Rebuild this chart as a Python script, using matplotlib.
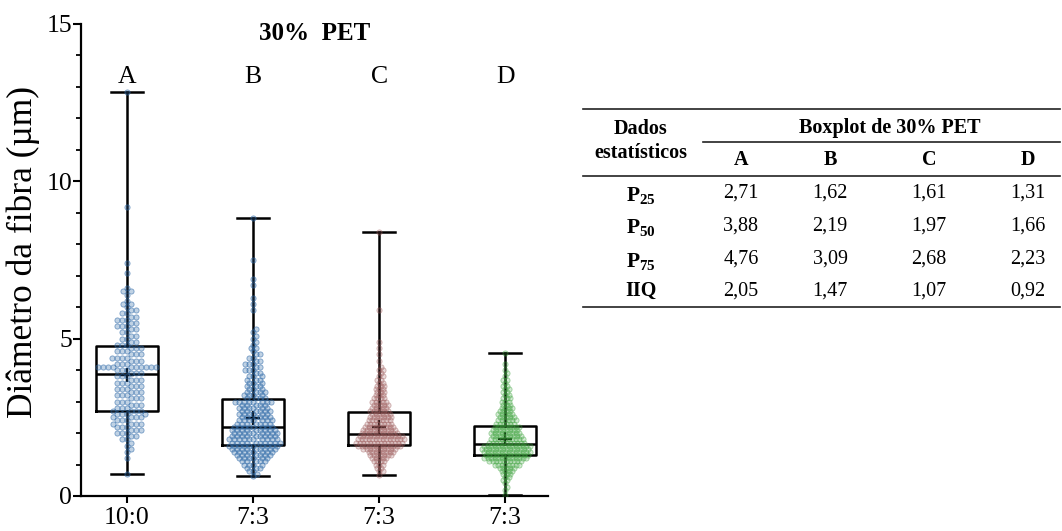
import numpy as np
import matplotlib
matplotlib.use("Agg")
import matplotlib.pyplot as plt
import matplotlib.transforms as mtransforms
from matplotlib.colors import to_rgba

plt.rcParams['font.family'] = ['Liberation Serif', 'DejaVu Serif']
plt.rcParams['mathtext.fontset'] = 'custom'
plt.rcParams['mathtext.rm'] = 'Liberation Serif'
plt.rcParams['mathtext.bf'] = 'Liberation Serif:bold'

# grupos e estatisticas (tabela)
grupos = ['A', 'B', 'C', 'D']
razoes = ['10:0', '7:3', '7:3', '7:3']
p25 = [2.71, 1.62, 1.61, 1.31]
p50 = [3.88, 2.19, 1.97, 1.66]
p75 = [4.76, 3.09, 2.68, 2.23]
iiq = [2.05, 1.47, 1.07, 0.92]
minimos = [0.70, 0.62, 0.67, 0.03]
maximos = [12.85, 8.82, 8.40, 4.55]
medias = [3.84, 2.47, 2.20, 1.80]

cores = ['#2f6aa8', '#2f6aa8', '#9c5a5a', '#3aa23a']

# pontos: diametro -> quantidade de fibras
diam_a = [0.70, 1.2, 1.4, 1.5, 1.6, 1.7, 1.8, 1.9,
          2.0, 2.1, 2.2, 2.3, 2.4, 2.5, 2.6, 2.7, 2.8, 2.9,
          3.0, 3.1, 3.2, 3.3, 3.4, 3.5, 3.6, 3.7, 3.8, 3.9,
          4.0, 4.1, 4.2, 4.3, 4.4, 4.5, 4.6, 4.7, 4.8, 4.9,
          5.0, 5.1, 5.2, 5.3, 5.4, 5.5, 5.6, 5.7, 5.8, 5.9,
          6.0, 6.1, 6.2, 6.4, 6.5, 6.6, 7.1, 7.4, 9.2, 12.85]
cont_a = [1, 1, 1, 1, 1, 1, 2, 2,
          3, 3, 3, 4, 3, 4, 4, 4, 3, 3,
          3, 3, 3, 3, 3, 3, 3, 3, 3, 3,
          3, 10, 3, 3, 4, 3, 3, 3, 3, 2,
          2, 2, 2, 2, 3, 2, 3, 2, 2, 2,
          1, 2, 1, 1, 2, 1, 1, 1, 1, 1]

diam_b = [0.62, 0.7, 0.8, 0.9,
          1.0, 1.1, 1.2, 1.3, 1.4, 1.5, 1.6, 1.7, 1.8, 1.9,
          2.0, 2.1, 2.2, 2.3, 2.4, 2.5, 2.6, 2.7, 2.8, 2.9,
          3.0, 3.1, 3.2, 3.3, 3.4, 3.5, 3.6, 3.7, 3.8, 3.9,
          4.0, 4.1, 4.2, 4.3, 4.4, 4.5, 4.6, 4.7, 4.8, 4.9,
          5.0, 5.1, 5.2, 5.3, 5.9, 6.1, 6.3, 6.7, 6.9, 7.5, 8.82]
cont_b = [1, 1, 2, 3,
          4, 5, 6, 7, 8, 9, 10, 10, 10, 9,
          9, 9, 8, 7, 7, 6, 6, 6, 6, 5,
          8, 4, 4, 4, 3, 3, 3, 3, 3, 2,
          3, 2, 3, 2, 2, 2, 1, 2, 1, 1,
          1, 1, 1, 1, 1, 1, 1, 1, 1, 1, 1]

diam_c = [0.67, 0.8, 0.9,
          1.0, 1.1, 1.2, 1.3, 1.4, 1.5, 1.6, 1.7, 1.8, 1.9,
          2.0, 2.1, 2.2, 2.3, 2.4, 2.5, 2.6, 2.7, 2.8, 2.9,
          3.0, 3.1, 3.2, 3.3, 3.4, 3.5, 3.6, 3.7, 3.8, 3.9,
          4.0, 4.1, 4.3, 4.5, 4.7, 4.9, 5.9, 8.4]
cont_c = [1, 2, 2,
          3, 4, 5, 7, 8, 10, 13, 14, 14, 13,
          11, 10, 9, 8, 7, 7, 6, 6, 5, 5,
          5, 4, 3, 3, 3, 3, 2, 2, 2, 1,
          2, 1, 1, 1, 1, 1, 1, 1]

diam_d = [0.03, 0.2, 0.3, 0.4, 0.5, 0.6, 0.7, 0.8, 0.9,
          1.0, 1.1, 1.2, 1.3, 1.4, 1.5, 1.6, 1.7, 1.8, 1.9,
          2.0, 2.1, 2.2, 2.3, 2.4, 2.5, 2.6, 2.7, 2.8, 2.9,
          3.0, 3.1, 3.2, 3.3, 3.4, 3.5, 3.6, 3.7, 3.8, 3.9,
          4.0, 4.2, 4.55]
cont_d = [1, 1, 1, 1, 2, 2, 3, 4, 5,
          8, 10, 13, 13, 14, 14, 14, 11, 10, 9,
          9, 8, 8, 6, 6, 5, 5, 4, 4, 3,
          3, 3, 2, 2, 2, 2, 1, 2, 1, 1,
          1, 1, 1]

diametros = [diam_a, diam_b, diam_c, diam_d]
contagens = [cont_a, cont_b, cont_c, cont_d]
espacamento = [4.8, 4.0, 3.4, 3.4]   # distancia minima entre pontos (px)
alfa_face = [0.3, 0.3, 0.22, 0.22]
alfa_borda = [0.6, 0.6, 0.45, 0.45]

fig = plt.figure(figsize=(10.62, 5.31), dpi=100)
ax = fig.add_axes([81 / 1062, 35 / 531, 467 / 1062, 472 / 531])
ax.set_xlim(-0.365, 3.34)
ax.set_ylim(0, 15)

# caixas
stats = []
for i in range(4):
    stats.append(dict(med=p50[i], q1=p25[i], q3=p75[i],
                      whislo=minimos[i], whishi=maximos[i],
                      mean=medias[i], fliers=[]))
linha = dict(color='black', linewidth=1.8)
ax.bxp(stats, positions=range(4), widths=0.49, capwidths=0.25,
       showmeans=True, showfliers=False,
       boxprops=linha, whiskerprops=linha, capprops=linha,
       medianprops=linha,
       meanprops=dict(marker='+', markeredgecolor='black',
                      markersize=10, markeredgewidth=1.7),
       zorder=2)


def enxame(xc, valores, dmin):
    # beeswarm simples em pixels
    pts = ax.transData.transform(np.column_stack([np.full(len(valores), xc), valores]))
    ys = pts[:, 1]
    x0 = pts[0, 0]
    passos = np.arange(0.5, 90, 0.5)
    cands = [0.0]
    for p in passos:
        cands += [p, -p]
    offs = np.zeros(len(ys))
    px, py = [], []
    for i in np.argsort(ys, kind='stable'):
        y = ys[i]
        ax_ = np.array(px)
        ay_ = np.array(py)
        if len(ax_):
            perto = np.abs(ay_ - y) < dmin
            nx, ny = ax_[perto], ay_[perto]
        else:
            nx, ny = ax_, ay_
        for c in cands:
            if np.all((nx - c) ** 2 + (ny - y) ** 2 >= dmin ** 2):
                break
        offs[i] = c
        px.append(c)
        py.append(y)
    volta = ax.transData.inverted().transform(np.column_stack([x0 + offs, ys]))
    return volta[:, 0], volta[:, 1]


for i in range(4):
    valores = np.repeat(diametros[i], contagens[i])
    xs, ys = enxame(i, valores, espacamento[i])
    ax.scatter(xs, ys, s=14, facecolors=[to_rgba(cores[i], alfa_face[i])],
               edgecolors=[to_rgba(cores[i], alfa_borda[i])], linewidths=0.6, zorder=3)

# eixos
ax.spines['top'].set_visible(False)
ax.spines['right'].set_visible(False)
ax.spines['left'].set_linewidth(1.6)
ax.spines['bottom'].set_linewidth(1.6)
ax.set_yticks([0, 5, 10, 15])
ax.set_yticks(range(16), minor=True)
ax.set_xticks(range(4))
ax.set_xticklabels(razoes)
ax.tick_params(axis='both', which='major', labelsize=18.5, width=1.5, color='black')
ax.tick_params(axis='y', which='major', length=6, pad=0.5)
ax.tick_params(axis='y', which='minor', length=3.5, width=1.3)
ax.tick_params(axis='x', which='major', length=5, pad=3)
ax.set_ylabel('Diâmetro da fibra (µm)', fontsize=25.5)
ax.yaxis.set_label_coords(-0.088, 0.517)

trans = mtransforms.blended_transform_factory(ax.transAxes, ax.transData)
ax.text(0.5, 14.7, '30%  PET', transform=trans, ha='center', va='center',
        fontsize=18, fontweight='bold')
for i, g in enumerate(grupos):
    ax.text(i, 13.12, g, ha='center', va='baseline', fontsize=18.5)

# tabela
tab = fig.add_axes([0, 0, 1, 1])
tab.set_xlim(0, 1062)
tab.set_ylim(531, 0)
tab.axis('off')
for y, x1 in [(109, 583), (142, 703), (176, 583), (307, 583)]:
    tab.plot([x1, 1060], [y, y], color='#222222', linewidth=1.2)

fs = 14.5
tab.text(641, 129, 'Dados', ha='center', va='center', fontsize=fs, fontweight='bold')
tab.text(641, 153, 'estatísticos', ha='center', va='center', fontsize=fs, fontweight='bold')
tab.text(890, 128, 'Boxplot de 30% PET', ha='center', va='center', fontsize=fs, fontweight='bold')
col_x = [741, 830, 929, 1028]
for x, g in zip(col_x, grupos):
    tab.text(x, 160, g, ha='center', va='center', fontsize=fs, fontweight='bold')

linhas = [(r'$\mathbf{P_{25}}$', p25), (r'$\mathbf{P_{50}}$', p50),
          (r'$\mathbf{P_{75}}$', p75), ('IIQ', iiq)]
row_y = [193, 226, 259, 291]
for (rot, vals), y in zip(linhas, row_y):
    if rot == 'IIQ':
        tab.text(641, y, rot, ha='center', va='center', fontsize=fs, fontweight='bold')
    else:
        tab.text(641, y + 2, rot, ha='center', va='center', fontsize=fs + 1)
    for x, v in zip(col_x, vals):
        tab.text(x, y, f'{v:.2f}'.replace('.', ','), ha='center', va='center', fontsize=fs)

fig.savefig('out.png', dpi=100)
